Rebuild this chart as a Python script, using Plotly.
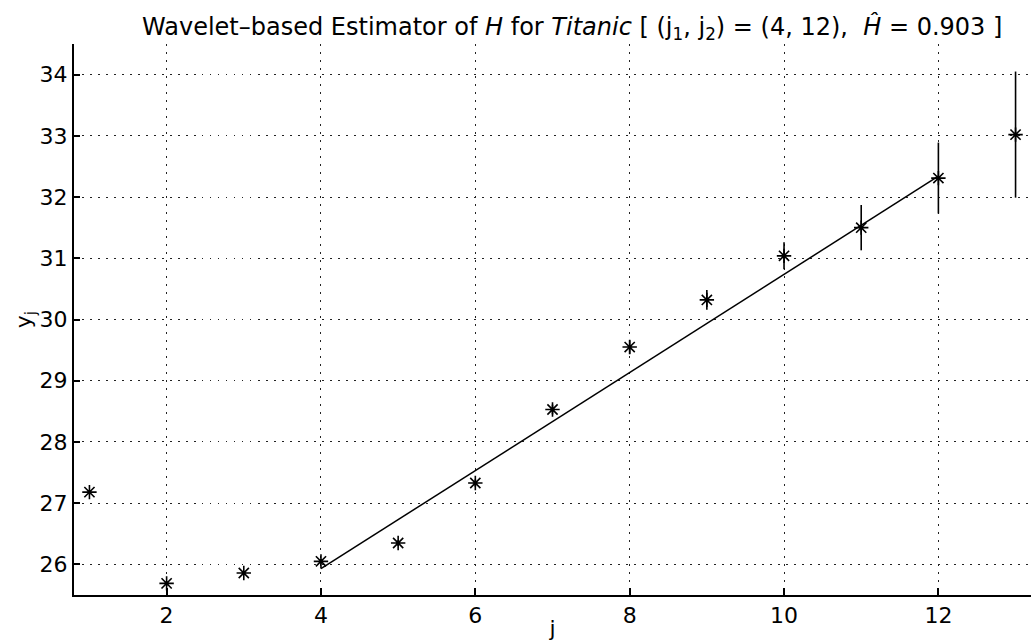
import plotly.graph_objects as go

# octave j, log2 wavelet energy y_j and its confidence half-width
j = [1, 2, 3, 4, 5, 6, 7, 8, 9, 10, 11, 12, 13]
y_j = [27.18, 25.69, 25.86, 26.05, 26.35, 27.33, 28.53, 29.55, 30.32, 31.04, 31.50, 32.31, 33.02]
err = [0.03, 0.03, 0.03, 0.04, 0.05, 0.06, 0.08, 0.11, 0.16, 0.22, 0.37, 0.58, 1.03]

# regression line over (j1, j2) = (4, 12)
fit_j = [4, 12]
fit_y = [25.93, 32.34]

x_ticks = [2, 4, 6, 8, 10, 12]
y_ticks = [26, 27, 28, 29, 30, 31, 32, 33, 34]

font = "DejaVu Sans, Liberation Sans, Arial, sans-serif"

fig = go.Figure()

fig.add_trace(go.Scatter(
    x=fit_j, y=fit_y, mode="lines",
    line=dict(color="black", width=1.5),
    showlegend=False,
))

fig.add_trace(go.Scatter(
    x=j, y=y_j, mode="markers",
    marker=dict(symbol="asterisk-open", size=12, color="black",
                line=dict(color="black", width=1.6)),
    error_y=dict(type="data", array=err, visible=True,
                 color="black", thickness=1.6, width=0),
    cliponaxis=False,
    showlegend=False,
))

grid = dict(showgrid=True, gridcolor="#222", griddash="1.5px,6.5px", gridwidth=1.3)

fig.update_layout(
    width=1031, height=641,
    margin=dict(l=74, r=0, t=44, b=46),
    paper_bgcolor="white", plot_bgcolor="white",
    font=dict(family=font, size=22, color="black"),
    title=dict(
        text="Wavelet–based Estimator of <i>H</i> for <i>Titanic</i> "
             "[ (j<sub>1</sub>, j<sub>2</sub>) = (4, 12),  <i>Ĥ</i> = 0.903 ]",
        x=0.555, xanchor="center", y=0.958, yanchor="middle",
        font=dict(family=font, size=24, color="black"),
    ),
    xaxis=dict(
        range=[0.8, 13.2], tickvals=x_ticks, **grid,
        zeroline=False, showline=True, linecolor="black", linewidth=2,
        ticks="inside", ticklen=7, tickwidth=1.5, tickcolor="black",
        automargin=False,
        title=dict(text="j", standoff=12, font=dict(size=22)),
    ),
    yaxis=dict(
        range=[25.5, 34.5], tickvals=y_ticks, **grid,
        zeroline=False, showline=True, linecolor="black", linewidth=2,
        ticks="inside", ticklen=6, tickwidth=1.5, tickcolor="black",
        automargin=False,
        title=dict(text="y<sub>j</sub>", standoff=2, font=dict(size=22)),
    ),
)

fig.write_html("out.html", config={"displayModeBar": False},
               post_script="document.body.style.margin='0';")
